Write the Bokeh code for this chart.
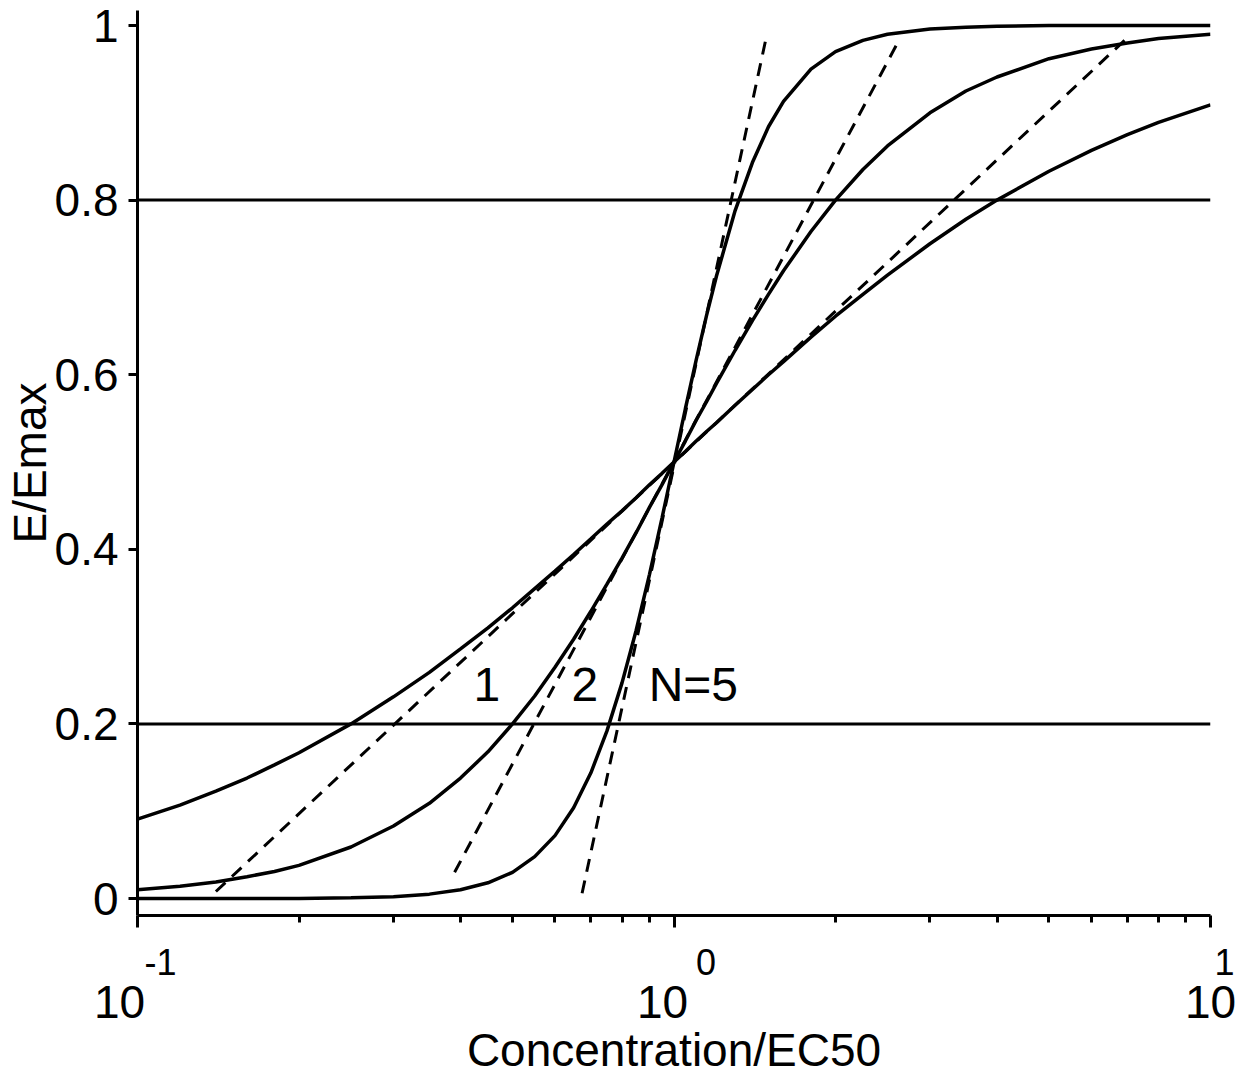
from bokeh.plotting import figure
from bokeh.models import Range1d, FixedTicker, Span, CustomJSTickFormatter, LogAxis
from bokeh.core.properties import value
from bokeh.embed import file_html
from bokeh.resources import INLINE

# ---- data ----
conc = [0.10, 0.12, 0.14, 0.16, 0.18, 0.20, 0.25, 0.30, 0.35, 0.40, 0.45, 0.50,
        0.55, 0.60, 0.65, 0.70, 0.75, 0.80, 0.85, 0.90, 0.95, 1.00, 1.05, 1.10,
        1.15, 1.20, 1.30, 1.40, 1.50, 1.60, 1.80, 2.00, 2.25, 2.50, 3.00, 3.50,
        4.00, 5.00, 6.00, 7.00, 8.00, 10.0]
e_n1 = [0.091, 0.107, 0.123, 0.138, 0.153, 0.167, 0.200, 0.231, 0.259, 0.286, 0.310, 0.333,
        0.355, 0.375, 0.394, 0.412, 0.429, 0.444, 0.459, 0.474, 0.487, 0.500, 0.512, 0.524,
        0.535, 0.545, 0.565, 0.583, 0.600, 0.615, 0.643, 0.667, 0.692, 0.714, 0.750, 0.778,
        0.800, 0.833, 0.857, 0.875, 0.889, 0.909]
e_n2 = [0.010, 0.014, 0.019, 0.025, 0.031, 0.038, 0.059, 0.083, 0.109, 0.138, 0.168, 0.200,
        0.232, 0.265, 0.297, 0.329, 0.360, 0.390, 0.419, 0.448, 0.474, 0.500, 0.524, 0.548,
        0.569, 0.590, 0.628, 0.662, 0.692, 0.719, 0.764, 0.800, 0.835, 0.862, 0.900, 0.925,
        0.941, 0.962, 0.973, 0.980, 0.985, 0.990]
e_n5 = [0.000, 0.000, 0.000, 0.000, 0.000, 0.000, 0.001, 0.002, 0.005, 0.010, 0.018, 0.030,
        0.048, 0.072, 0.104, 0.144, 0.192, 0.247, 0.307, 0.371, 0.436, 0.500, 0.561, 0.617,
        0.668, 0.713, 0.788, 0.843, 0.884, 0.913, 0.950, 0.970, 0.983, 0.990, 0.996, 0.998,
        0.999, 1.000, 1.000, 1.000, 1.000, 1.000]

# tangent (dashed) lines through EC50, one per Hill coefficient
tan_x0 = [0.14, 0.39, 0.674]
tan_y0 = [0.008, 0.03, 0.006]
tan_x1 = [7.0, 2.6, 1.49]
tan_y1 = [0.986, 0.978, 0.99]

ref_levels = [0.2, 0.8]

y_ticks = [0, 0.2, 0.4, 0.6, 0.8, 1]
x_major = [0.1, 1, 10]
x_major_base = ["10", "10", "10"]
x_major_exp = ["-1", "0", "1"]
x_minor = [0.2, 0.3, 0.4, 0.5, 0.6, 0.7, 0.8, 0.9, 2, 3, 4, 5, 6, 7, 8, 9]

label_text = ["1", "2", "N=5"]
label_x = [0.423, 0.644, 0.897]
label_y = [0.245, 0.245, 0.245]

FONT = "Liberation Sans"
EN, NB = "\u2002", "\u00a0"

# spacing so that base sits left of the tick and the exponent right of it
exp_pad = [EN * 2 + NB, EN * 3 + NB, EN + NB]
base_pad = [EN + NB, EN, ""]
exp_labels = [pd + e for pd, e in zip(exp_pad, x_major_exp)]
base_labels = [b + pd for b, pd in zip(x_major_base, base_pad)]

lookup_js = """
let best = -1, bd = 1e9;
for (let i = 0; i < tvals.length; i++) {
  const d = Math.abs(Math.log10(tvals[i]) - Math.log10(tick));
  if (d < bd) { bd = d; best = i; }
}
return bd < 1e-6 ? labs[best] : '';
"""

p = figure(frame_width=1073, frame_height=905,
           x_axis_type="log",
           x_range=Range1d(0.1, 10), y_range=Range1d(-0.01947, 1.01718),
           output_backend="svg", toolbar_location=None,
           min_border_left=137, min_border_right=27,
           min_border_top=10, min_border_bottom=159,
           y_axis_label="E/Emax")

p.outline_line_color = None
p.xgrid.visible = False
p.ygrid.visible = False
p.background_fill_color = "white"
p.border_fill_color = "white"

for lv in ref_levels:
    p.add_layout(Span(location=lv, dimension="width", line_color="black", line_width=3))

for ys in (e_n1, e_n2, e_n5):
    p.line(conc, ys, line_color="black", line_width=3.5)

p.segment(tan_x0, tan_y0, tan_x1, tan_y1, line_color="black", line_width=3,
          line_dash="13 9")

p.text(label_x, label_y, text=label_text, text_font=value(FONT),
       text_font_size="48px", text_align="left", text_baseline="alphabetic",
       text_color="black")

# y axis
ya = p.yaxis[0]
ya.ticker = FixedTicker(ticks=y_ticks)
ya.formatter = CustomJSTickFormatter(code="""
  if (Math.abs(tick) < 1e-9) return '0';
  if (Math.abs(tick - 1) < 1e-9) return '1';
  return tick.toFixed(1);
""")
ya.major_tick_out = 9
ya.major_tick_in = 0
ya.minor_tick_out = 0
ya.minor_tick_in = 0
ya.axis_line_width = 3
ya.major_tick_line_width = 3
ya.major_label_text_font = FONT
ya.major_label_text_font_size = "46px"
ya.major_label_text_color = "black"
ya.major_label_standoff = 10
ya.axis_label_text_font = FONT
ya.axis_label_text_font_size = "46px"
ya.axis_label_text_font_style = "normal"
ya.axis_label_text_color = "black"
ya.axis_label_standoff = -4

# x axis (at the frame): line, ticks and the raised exponents
xa = p.xaxis[0]
xa.ticker = FixedTicker(ticks=x_major, minor_ticks=x_minor)
xa.formatter = CustomJSTickFormatter(args=dict(tvals=x_major, labs=exp_labels),
                                     code=lookup_js)
xa.major_tick_out = 12
xa.major_tick_in = 0
xa.minor_tick_out = 7
xa.minor_tick_in = 0
xa.axis_line_width = 3
xa.major_tick_line_width = 3
xa.minor_tick_line_width = 3
xa.major_label_standoff = 14
xa.major_label_text_font = FONT
xa.major_label_text_font_size = "36px"
xa.major_label_text_color = "black"

# second x axis below: the "10" bases and the axis title
xb = LogAxis(ticker=FixedTicker(ticks=x_major, minor_ticks=[]),
             formatter=CustomJSTickFormatter(args=dict(tvals=x_major, labs=base_labels),
                                             code=lookup_js),
             axis_line_color=None, major_tick_line_color=None, minor_tick_line_color=None,
             major_tick_out=0, major_tick_in=0, minor_tick_out=0, minor_tick_in=0,
             major_label_standoff=-10,
             major_label_text_font=FONT, major_label_text_font_size="46px",
             major_label_text_color="black",
             axis_label="Concentration/EC50", axis_label_standoff=-7,
             axis_label_text_font=FONT, axis_label_text_font_size="46px",
             axis_label_text_font_style="normal", axis_label_text_color="black")
p.add_layout(xb, "below")

open("out.html", "w").write(file_html(p, INLINE))
